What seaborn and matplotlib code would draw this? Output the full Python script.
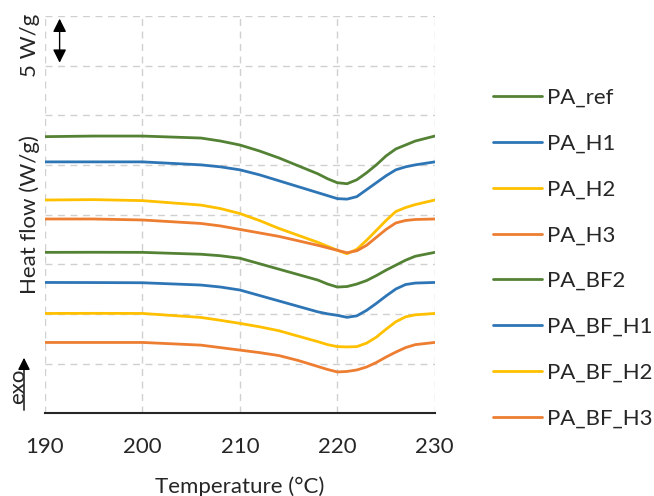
import pandas as pd
import matplotlib
matplotlib.use("Agg")
import matplotlib.pyplot as plt
import seaborn as sns

# Temperature grid (°C) and heat flow curves (W/g, stacked offsets)
temps = [190, 195, 200, 206, 208, 210, 212, 214, 216, 218, 219, 220, 221, 222, 223, 224, 225, 226, 227, 228, 230]

pa_ref   = [27.84, 27.9, 27.9, 27.7, 27.4, 27.0, 26.4, 25.7, 24.9, 24.1, 23.6, 23.2, 23.1, 23.5, 24.2, 25.0, 25.9, 26.6, 27.0, 27.4, 27.9]
pa_h1    = [25.3, 25.3, 25.3, 25.0, 24.8, 24.5, 24.0, 23.4, 22.8, 22.2, 21.9, 21.6, 21.55, 21.8, 22.5, 23.2, 23.9, 24.5, 24.8, 25.0, 25.3]
pa_h2    = [21.46, 21.5, 21.4, 20.95, 20.6, 20.1, 19.4, 18.6, 17.9, 17.2, 16.8, 16.4, 16.05, 16.5, 17.4, 18.4, 19.4, 20.3, 20.7, 21.0, 21.46]
pa_h3    = [19.55, 19.55, 19.45, 19.1, 18.85, 18.5, 18.15, 17.8, 17.35, 16.9, 16.65, 16.4, 16.15, 16.35, 16.9, 17.7, 18.5, 19.15, 19.4, 19.5, 19.55]
pa_bf2   = [16.19, 16.2, 16.19, 16.0, 15.85, 15.6, 15.05, 14.5, 13.95, 13.4, 13.0, 12.7, 12.75, 13.0, 13.35, 13.85, 14.4, 14.9, 15.4, 15.8, 16.19]
pa_bf_h1 = [13.16, 13.15, 13.13, 12.9, 12.7, 12.4, 11.85, 11.3, 10.75, 10.2, 10.0, 9.85, 9.65, 9.8, 10.35, 11.05, 11.8, 12.5, 12.95, 13.1, 13.16]
pa_bf_h2 = [10.04, 10.05, 10.04, 9.64, 9.35, 9.04, 8.7, 8.3, 7.75, 7.2, 6.9, 6.7, 6.67, 6.7, 7.05, 7.65, 8.45, 9.2, 9.7, 9.9, 10.04]
pa_bf_h3 = [7.12, 7.12, 7.12, 6.85, 6.6, 6.35, 6.1, 5.8, 5.3, 4.7, 4.4, 4.15, 4.2, 4.35, 4.65, 5.1, 5.65, 6.15, 6.6, 6.9, 7.12]

names = ["PA_ref", "PA_H1", "PA_H2", "PA_H3", "PA_BF2", "PA_BF_H1", "PA_BF_H2", "PA_BF_H3"]
series = [pa_ref, pa_h1, pa_h2, pa_h3, pa_bf2, pa_bf_h1, pa_bf_h2, pa_bf_h3]
colors = ["#548235", "#2E75B6", "#FFC000", "#ED7D31", "#548235", "#2E75B6", "#FFC000", "#ED7D31"]

rows = []
for n, s in zip(names, series):
    for t, v in zip(temps, s):
        rows.append({"Temperature": t, "Heat flow": v, "Sample": n})
df = pd.DataFrame(rows)

sns.set_style("white")
plt.rcParams["font.family"] = ["Lato", "DejaVu Sans"]

fig = plt.figure(figsize=(6.54, 4.96), dpi=100)
ax = fig.add_axes([0.0688, 0.167, 0.596, 0.801])

sns.lineplot(data=df, x="Temperature", y="Heat flow", hue="Sample",
             palette=colors, hue_order=names, linewidth=2, ax=ax, legend=False)

ax.set_xlim(190, 230)
ax.set_ylim(0, 40)
ax.set_xticks([190, 200, 210, 220, 230])
ax.set_yticks(range(0, 41, 5))
ax.set_yticklabels([])
ax.tick_params(axis="both", length=0, labelsize=16)
ax.tick_params(axis="x", pad=17)
ax.grid(True, color="#D0D0D0", linestyle=(0, (5, 4)), linewidth=1)
for side in ["left", "right", "top"]:
    ax.spines[side].set_visible(False)
ax.spines["bottom"].set_color("#262626")
ax.spines["bottom"].set_linewidth(1.5)

ax.set_xlabel("Temperature (°C)", fontsize=16, labelpad=14)
ax.set_ylabel("Heat flow (W/g)", fontsize=16)
ax.yaxis.set_label_coords(-0.013, 0.5)

# scale bar 5 W/g
ax.annotate("", xy=(191.5, 40), xytext=(191.5, 35),
            arrowprops=dict(arrowstyle="<|-|>", color="black", lw=1, mutation_scale=20),
            annotation_clip=False)
fig.text(30 / 654, 1 - 45 / 496, "5 W/g", rotation=90, ha="center", va="center", fontsize=16)

# exo arrow
fig.add_artist(matplotlib.patches.FancyArrowPatch(
    (24 / 654, 1 - 413 / 496), (24 / 654, 1 - 355 / 496), transform=fig.transFigure,
    arrowstyle="-|>", mutation_scale=18, color="black", lw=1))
fig.text(18 / 654, 1 - 386 / 496, "exo", rotation=90, ha="center", va="center", fontsize=16)

handles = [plt.Line2D([], [], color=c, lw=2) for c in colors]
fig.legend(handles, names, loc="upper left", bbox_to_anchor=(493 / 654, 1 - 88 / 496),
           frameon=False, fontsize=16, handlelength=2.2, handletextpad=0.25,
           labelspacing=1.16, borderaxespad=0, borderpad=0)

fig.savefig("out.png", dpi=100)
